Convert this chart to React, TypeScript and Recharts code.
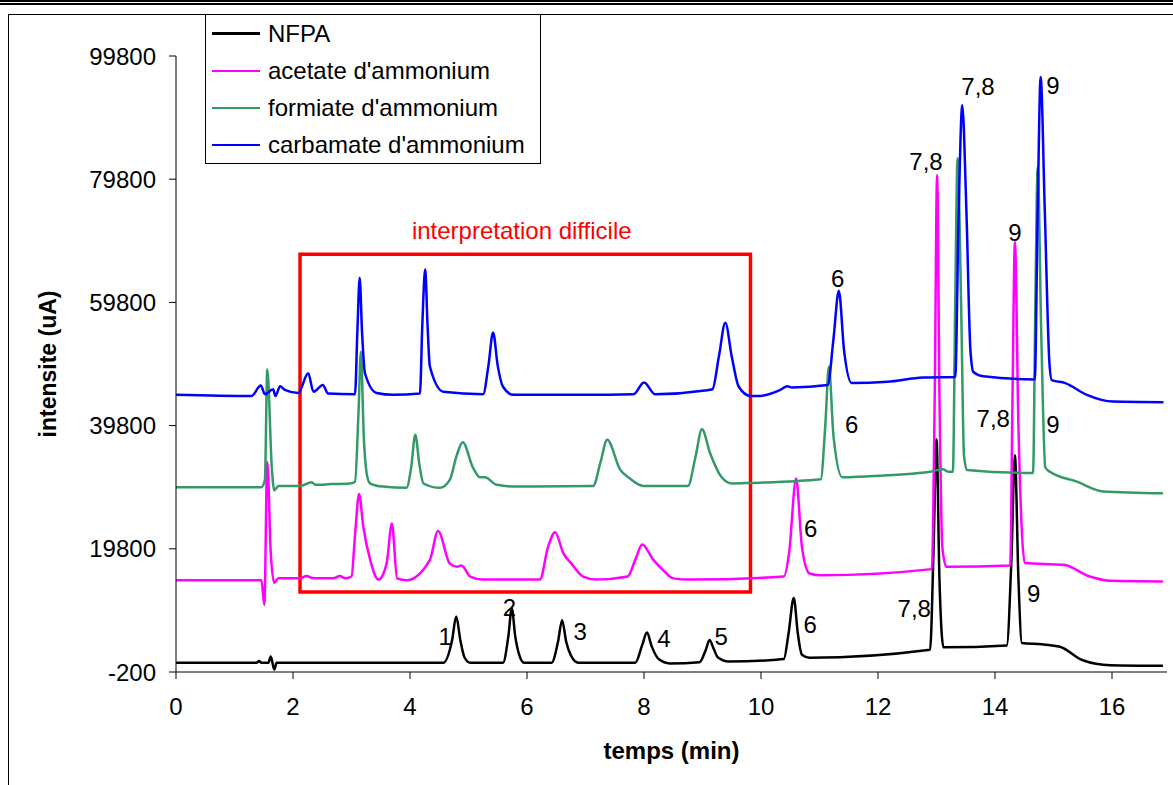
import { LineChart, Line, XAxis, YAxis, ReferenceArea, ReferenceDot, Legend } from "recharts"

const FONT = "'Liberation Sans', Arial, Helvetica, sans-serif"

// [temps (min), intensite (uA)]
const nfpa: [number, number][] = [
  [0, 1300], [1.38, 1300], [1.42, 1600], [1.46, 1300], [1.58, 1300], [1.62, 2300], [1.68, 200], [1.72, 1300],
  [4.57, 1300], [4.72, 5000], [4.79, 8800], [4.86, 5000], [4.93, 2200], [5.03, 1300],
  [5.59, 1300], [5.68, 5500], [5.74, 10100], [5.8, 5500], [5.87, 2500], [5.95, 1300],
  [6.42, 1300], [6.53, 4700], [6.6, 8200], [6.67, 4700], [6.75, 2500], [6.88, 1300],
  [7.85, 1300], [7.97, 4200], [8.05, 6200], [8.13, 4000], [8.25, 1900], [8.44, 1200],
  [8.95, 1400], [9.06, 3500], [9.12, 5000], [9.19, 3600], [9.26, 2200], [9.45, 1500],
  [10.39, 1900], [10.47, 6000], [10.56, 11800], [10.63, 6000], [10.7, 2600], [10.83, 2100],
  [12.89, 3400], [12.95, 20000], [13.0, 37600], [13.05, 15000], [13.12, 3800],
  [14.2, 4100], [14.28, 18000], [14.34, 35000], [14.4, 15000], [14.46, 4500],
  [14.8, 4300], [15.11, 3900], [15.5, 1700], [15.97, 900], [16.87, 800],
]

const acetate: [number, number][] = [
  [0, 14700], [1.46, 14700], [1.51, 10700], [1.56, 33900], [1.62, 19100], [1.68, 14300], [1.75, 15000],
  [2.12, 15000], [2.23, 15400], [2.35, 15000], [2.69, 15000], [2.8, 15400], [2.89, 15000], [3.0, 15300],
  [3.06, 22000], [3.13, 28700], [3.2, 23500], [3.32, 18000], [3.46, 14800],
  [3.6, 17400], [3.69, 23900], [3.78, 15000], [3.94, 14700],
  [4.34, 18000], [4.48, 22700], [4.68, 17400], [4.8, 16900], [4.88, 17100], [5.03, 15300], [5.25, 14800],
  [6.22, 14800], [6.36, 20100], [6.48, 22500], [6.62, 19100], [6.76, 17400], [6.96, 15300], [7.19, 14800],
  [7.72, 15300], [7.85, 18000], [7.97, 20500], [8.16, 18000], [8.32, 16400], [8.5, 15000], [8.76, 14800],
  [10.39, 15300], [10.48, 19100], [10.6, 31200], [10.7, 20100], [10.83, 15800], [11.02, 15500],
  [12.92, 16500], [12.97, 45000], [13.01, 80500], [13.05, 45000], [13.1, 20000], [13.17, 16900],
  [14.26, 17100], [14.3, 45000], [14.34, 69600], [14.4, 40000], [14.51, 17500],
  [15.17, 17200], [15.62, 15300], [15.97, 14600], [16.87, 14500],
]

const formiate: [number, number][] = [
  [0, 29800], [1.46, 29800], [1.52, 31000], [1.56, 48900], [1.64, 32600], [1.68, 29300], [1.75, 30000],
  [2.12, 30000], [2.32, 30600], [2.38, 30200], [2.66, 30300], [2.97, 30400], [3.06, 30700],
  [3.12, 42000], [3.16, 51800], [3.21, 38000], [3.27, 31500], [3.32, 30400], [3.54, 29900], [3.94, 29700],
  [4.02, 33000], [4.09, 38300], [4.16, 33500], [4.23, 30400], [4.51, 29700],
  [4.68, 31000], [4.8, 35000], [4.9, 37100], [5.08, 32900], [5.2, 31400], [5.28, 31400], [5.48, 30200], [5.82, 29900],
  [7.13, 30000], [7.26, 34000], [7.37, 37500], [7.59, 32700], [7.76, 31200], [7.99, 30000],
  [8.75, 30000], [8.88, 34700], [8.99, 39200], [9.13, 35300], [9.32, 31500], [9.51, 30400], [9.82, 30500],
  [11.02, 31100], [11.1, 40000], [11.16, 49400], [11.24, 38000], [11.39, 31400], [11.65, 31500],
  [12.89, 32300], [13.11, 32700], [13.2, 32300], [13.28, 32300], [13.32, 60000], [13.36, 83200], [13.42, 60000], [13.47, 35000], [13.52, 32600],
  [14.65, 32100], [14.69, 60000], [14.73, 81800], [14.79, 55000], [14.86, 33000], [14.94, 32300],
  [15.4, 30700], [15.85, 29100], [16.87, 28800],
]

const carbamate: [number, number][] = [
  [0, 44800], [1.29, 44600], [1.45, 46300], [1.52, 44900], [1.66, 45700], [1.7, 44600], [1.78, 46200], [1.86, 45600],
  [2.09, 45100], [2.26, 48300], [2.35, 45300], [2.51, 46400], [2.6, 45000], [3.06, 44900],
  [3.1, 55000], [3.14, 63800], [3.18, 55000], [3.23, 48300], [3.43, 45100], [3.71, 44800], [4.17, 45000],
  [4.21, 56000], [4.26, 65200], [4.3, 56000], [4.34, 49400], [4.57, 45300], [5.25, 44900],
  [5.34, 49500], [5.42, 54900], [5.5, 49500], [5.59, 46100], [5.77, 44800], [6.96, 44800],
  [7.82, 44900], [8.0, 46800], [8.19, 44900], [9.04, 45500], [9.17, 45700],
  [9.28, 51000], [9.39, 56500], [9.5, 51000], [9.62, 46100], [9.82, 44600], [9.95, 44600],
  [10.33, 45600], [10.45, 46200], [10.53, 46000], [11.14, 46400],
  [11.24, 54000], [11.33, 61700], [11.42, 52000], [11.55, 46700], [12.16, 46900], [12.77, 47600], [13.32, 47700],
  [13.38, 75000], [13.44, 91800], [13.51, 75000], [13.58, 52000], [13.63, 48500], [13.8, 47800],
  [14.68, 47300], [14.73, 75000], [14.78, 96400], [14.85, 75000], [14.93, 50000], [14.97, 47200],
  [15.2, 46700], [15.57, 44800], [16.02, 43700], [16.88, 43600],
]

const seriesNames = ["NFPA", "acetate d'ammonium", "formiate d'ammonium", "carbamate d'ammonium"]
const seriesColors = ["#000000", "#ff00ff", "#339966", "#0000ff"]
const seriesData = [nfpa, acetate, formiate, carbamate]

const xTicks = [0, 2, 4, 6, 8, 10, 12, 14, 16]
const yTicks = [-200, 19800, 39800, 59800, 79800, 99800]

// peak numbers written next to the traces
const peakTexts = ["1", "2", "3", "4", "5", "6", "7,8", "9", "6", "7,8", "9", "6", "7,8", "9", "6", "7,8", "9"]
const peakT = [4.6, 5.7, 6.91, 8.34, 9.32, 10.84, 12.62, 14.66, 10.85, 12.82, 14.34, 11.55, 13.97, 14.99, 11.31, 13.71, 14.99]
const peakY = [5600, 10350, 6350, 5300, 5500, 7450, 10100, 12550, 23100, 82600, 71100, 39900, 41000, 40000, 63700, 94900, 95000]

// zone "interpretation difficile"
const zoneT = [2.12, 9.82]
const zoneY = [12800, 67600]
const zoneLabel = "interpretation difficile"

const LegendBox = () => (
  <div style={{
    width: 336, height: 150, boxSizing: "border-box", border: "1px solid #000",
    background: "#fff", fontFamily: FONT, fontSize: 24, color: "#000",
  }}>
    {seriesNames.map((name, i) => (
      <div key={name} style={{ height: 37.2, display: "flex", alignItems: "center" }}>
        <div style={{ marginLeft: 6, width: 48, height: 2.5, background: seriesColors[i] }} />
        <span style={{ marginLeft: 8, whiteSpace: "nowrap" }}>{name}</span>
      </div>
    ))}
  </div>
)

const TextMark = (props: any) => (
  <text x={props.cx} y={props.cy} textAnchor="middle" dominantBaseline="central"
    fontFamily={FONT} fontSize={24} fill={props.color}>{props.text}</text>
)

export default function App() {
  return (
    <div style={{ position: "absolute", left: 0, top: 0, width: 1173, height: 785, background: "#fff" }}>
      {/* page frame */}
      <div style={{ position: "absolute", left: 0, top: 0, width: 1173, height: 1.5, background: "#000" }} />
      <div style={{ position: "absolute", left: 0, top: 2.5, width: 1173, height: 2, background: "#000" }} />
      <div style={{ position: "absolute", left: 8, top: 14, width: 1165, height: 1, background: "#000" }} />
      <div style={{ position: "absolute", left: 8, top: 14, width: 1, height: 771, background: "#000" }} />

      <LineChart width={1173} height={785} margin={{ top: 56, right: 6, left: 0, bottom: 0 }}>
        <XAxis
          type="number" dataKey="t" domain={[0, 16.94]} ticks={xTicks} allowDataOverflow
          stroke="#000" tickSize={7} tickMargin={19} height={113}
          tick={{ fill: "#000", fontSize: 24, fontFamily: FONT }}
          label={{
            content: (p: any) => (
              <text x={p.viewBox.x + p.viewBox.width / 2} y={p.viewBox.y + 87} textAnchor="middle"
                fontFamily={FONT} fontSize={24} fontWeight="bold" fill="#000">temps (min)</text>
            ),
          }}
        />
        <YAxis
          type="number" domain={[-200, 99800]} ticks={yTicks} allowDataOverflow
          stroke="#000" tickSize={7} tickMargin={13} width={176}
          tick={{ fill: "#000", fontSize: 24, fontFamily: FONT }}
          label={{
            content: (p: any) => {
              const cx = 48
              const cy = p.viewBox.y + p.viewBox.height / 2
              return (
                <text x={cx} y={cy} transform={`rotate(-90 ${cx} ${cy})`} textAnchor="middle" dominantBaseline="central"
                  fontFamily={FONT} fontSize={23} fontWeight="bold" fill="#000">intensite (uA)</text>
              )
            },
          }}
        />
        <Legend
          layout="horizontal" verticalAlign="middle" align="center"
          wrapperStyle={{ left: 205, top: 14, width: 336, height: 150 }}
          content={() => <LegendBox />}
        />
        {seriesData.map((d, i) => (
          <Line
            key={seriesNames[i]}
            name={seriesNames[i]}
            data={d.map(([t, y]) => ({ t, y }))}
            dataKey="y"
            type="monotone"
            stroke={seriesColors[i]}
            strokeWidth={2.5}
            dot={false}
            isAnimationActive={false}
          />
        ))}
        <ReferenceArea x1={zoneT[0]} x2={zoneT[1]} y1={zoneY[0]} y2={zoneY[1]}
          fill="none" fillOpacity={0} stroke="#ff0000" strokeWidth={3.5} />
        <ReferenceDot x={(zoneT[0] + zoneT[1]) / 2 - 0.06} y={71400} r={0}
          shape={(p: any) => <TextMark {...p} text={zoneLabel} color="#ff0000" />} />
        {peakTexts.map((txt, i) => (
          <ReferenceDot key={i} x={peakT[i]} y={peakY[i]} r={0}
            shape={(p: any) => <TextMark {...p} text={txt} color="#000" />} />
        ))}
      </LineChart>
    </div>
  )
}
